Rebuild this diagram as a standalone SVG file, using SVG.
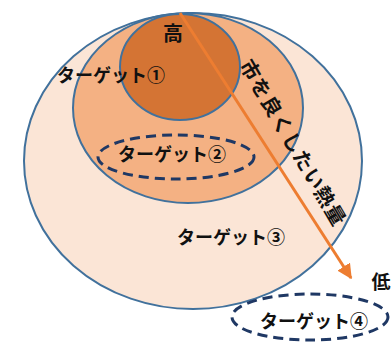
<svg xmlns="http://www.w3.org/2000/svg" width="392" height="342" viewBox="0 0 392 342">
<style>
.t{font-family:"Noto Sans CJK JP","Noto Sans",sans-serif;font-weight:bold;fill:#111;}
.e{stroke:#41719C;stroke-width:2;}
.d{fill:none;stroke:#1F3864;stroke-width:3;stroke-dasharray:10,6;}
</style>
<defs>
<marker id="ah" markerWidth="5" markerHeight="5" refX="4.5" refY="2.5" orient="auto" markerUnits="strokeWidth">
<path d="M0,0 L5,2.5 L0,5 Z" fill="#ED7D31"/>
</marker>
</defs>
<rect width="392" height="342" fill="#fff"/>
<g id="target3">
<ellipse class="e" cx="193" cy="161" rx="169" ry="148" fill="#FBE5D6"/>
<text class="t" x="177" y="244" font-size="18">ターゲット③</text>
</g>
<g id="target1">
<ellipse class="e" cx="188" cy="108" rx="115" ry="95" fill="#F4B183"/>
<ellipse class="e" cx="180" cy="67" rx="60" ry="53" fill="#D47434"/>
<text class="t" x="57" y="82" font-size="18">ターゲット①</text>
<text class="t" x="173" y="41" font-size="20" text-anchor="middle">高</text>
</g>
<g id="target2">
<ellipse class="d" cx="176" cy="157" rx="78" ry="22"/>
<text class="t" x="118" y="161" font-size="18">ターゲット②</text>
</g>
<g id="target4">
<ellipse class="d" cx="310" cy="317" rx="78" ry="23"/>
<text class="t" x="260" y="328" font-size="18">ターゲット④</text>
</g>
<g id="connectors">
<line x1="180" y1="13" x2="351" y2="278" stroke="#ED7D31" stroke-width="3" marker-end="url(#ah)"/>
</g>
<g id="labels">
<text class="t" font-size="20" letter-spacing="1" transform="translate(245,61.5) rotate(59.6)" x="0" y="7">市を良くしたい熱量</text>
<text class="t" x="381" y="289" font-size="19" text-anchor="middle">低</text>
</g>
</svg>
